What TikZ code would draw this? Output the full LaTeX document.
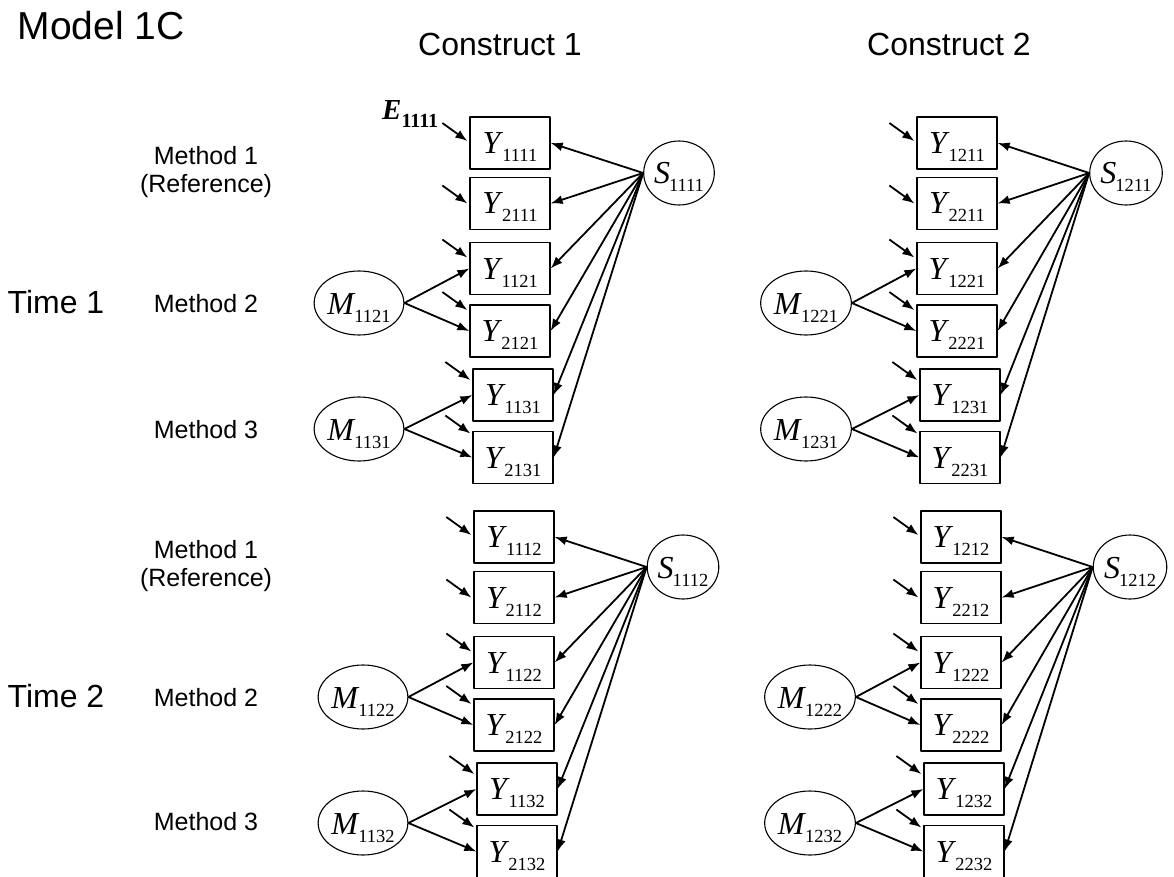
\documentclass[tikz,border=0pt]{standalone}
\usepackage{fontspec}
\setmainfont{Liberation Sans}
\newfontfamily\tnr{Liberation Serif}
\usetikzlibrary{shapes.geometric,arrows.meta}
\newcommand{\lvar}[2]{{\tnr\fontsize{32}{32}\selectfont\textit{#1}\kern-1pt\raisebox{-8pt}{\fontsize{18.5}{18.5}\selectfont #2}}}
\newcommand{\errvar}[2]{{\tnr\bfseries\fontsize{29}{29}\selectfont\textit{#1}\raisebox{-8pt}{\fontsize{20}{20}\selectfont #2}}}

\begin{document}
\begin{tikzpicture}[x=1pt,y=-1pt,>={Latex[length=12pt,width=9pt]},line join=bevel,
  indicator/.style={draw,line width=1.3pt,minimum width=80pt,minimum height=52pt,inner sep=0pt,text height=21pt,text depth=0pt},
  factor/.style={draw,ellipse,line width=1.1pt,minimum width=69pt,minimum height=64pt,inner sep=0pt,text height=22pt,text depth=0pt},
  heading/.style={font=\fontsize{32}{38}\selectfont},
  method/.style={font=\fontsize{25}{28}\selectfont,align=center},
  load/.style={->,line width=1.8pt}]
\useasboundingbox (0,0) rectangle (1174,877);
%% labels
\node (node_title) at (14,40) [anchor=base west,font=\fontsize{39}{46}\selectfont] {Model 1C};
\node (node_con1) at (500,56) [heading,anchor=base] {Construct 1};
\node (node_con2) at (949,56) [heading,anchor=base] {Construct 2};
\node (node_time1) at (56,313) [heading,anchor=base] {Time 1};
\node (node_time2) at (56,707) [heading,anchor=base] {Time 2};
\node (node_meth11) at (206,172) [method] {Method 1\\(Reference)};
\node (node_meth21) at (206,312) [method,anchor=base] {Method 2};
\node (node_meth31) at (206,438) [method,anchor=base] {Method 3};
\node (node_meth12) at (206,566) [method] {Method 1\\(Reference)};
\node (node_meth22) at (206,706) [method,anchor=base] {Method 2};
\node (node_meth32) at (206,830) [method,anchor=base] {Method 3};
\node (node_E1111) at (382,120) [anchor=base west,inner sep=0pt] {\errvar{E}{1111}};
%% construct 1, time 1
\node (node_Y1111) at (510,143) [indicator] {\lvar{Y}{1111}};
\node (node_Y2111) at (510,203.5) [indicator] {\lvar{Y}{2111}};
\node (node_Y1121) at (510,268.5) [indicator] {\lvar{Y}{1121}};
\node (node_Y2121) at (510,331) [indicator] {\lvar{Y}{2121}};
\node (node_Y1131) at (513,395) [indicator] {\lvar{Y}{1131}};
\node (node_Y2131) at (513,457.5) [indicator] {\lvar{Y}{2131}};
\node (node_S1111) at (679,173) [factor] {\lvar{S}{1111}};
\node (node_M1121) at (359,303) [factor,minimum width=70pt] {\lvar{M}{1121}};
\node (node_M1131) at (359,429) [factor,minimum width=70pt] {\lvar{M}{1131}};
\draw [load] (node_S1111.west) -- (node_Y1111.east);
\draw [load] (node_S1111.west) -- (node_Y2111.east);
\draw [load] (node_S1111.west) -- (node_Y1121.east);
\draw [load] (node_S1111.west) -- (node_Y2121.east);
\draw [load] (node_S1111.west) -- (node_Y1131.east);
\draw [load] (node_S1111.west) -- (node_Y2131.east);
\draw [load] (node_M1121.east) -- (node_Y1121.west);
\draw [load] (node_M1121.east) -- (node_Y2121.west);
\draw [load] (node_M1131.east) -- (node_Y1131.west);
\draw [load] (node_M1131.east) -- (node_Y2131.west);
\draw [load] ([xshift=-27pt,yshift=20pt]node_Y1111.west) -- ([xshift=-2pt,yshift=2pt]node_Y1111.west);
\draw [load] ([xshift=-27pt,yshift=18pt]node_Y2111.west) -- ([xshift=-2pt]node_Y2111.west);
\draw [load] ([xshift=-27pt,yshift=29pt]node_Y1121.west) -- ([xshift=-2pt,yshift=11pt]node_Y1121.west);
\draw [load] ([xshift=-27pt,yshift=39pt]node_Y2121.west) -- ([xshift=-2pt,yshift=21pt]node_Y2121.west);
\draw [load] ([xshift=-27pt,yshift=33pt]node_Y1131.west) -- ([xshift=-2pt,yshift=15pt]node_Y1131.west);
\draw [load] ([xshift=-27pt,yshift=42pt]node_Y2131.west) -- ([xshift=-2pt,yshift=24pt]node_Y2131.west);
%% construct 2, time 1
\node (node_Y1211) at (957,143) [indicator] {\lvar{Y}{1211}};
\node (node_Y2211) at (957,203.5) [indicator] {\lvar{Y}{2211}};
\node (node_Y1221) at (957,268.5) [indicator] {\lvar{Y}{1221}};
\node (node_Y2221) at (957,331) [indicator] {\lvar{Y}{2221}};
\node (node_Y1231) at (960,395) [indicator] {\lvar{Y}{1231}};
\node (node_Y2231) at (960,457.5) [indicator] {\lvar{Y}{2231}};
\node (node_S1211) at (1126,173) [factor] {\lvar{S}{1211}};
\node (node_M1221) at (806,303) [factor,minimum width=70pt] {\lvar{M}{1221}};
\node (node_M1231) at (806,429) [factor,minimum width=70pt] {\lvar{M}{1231}};
\draw [load] (node_S1211.west) -- (node_Y1211.east);
\draw [load] (node_S1211.west) -- (node_Y2211.east);
\draw [load] (node_S1211.west) -- (node_Y1221.east);
\draw [load] (node_S1211.west) -- (node_Y2221.east);
\draw [load] (node_S1211.west) -- (node_Y1231.east);
\draw [load] (node_S1211.west) -- (node_Y2231.east);
\draw [load] (node_M1221.east) -- (node_Y1221.west);
\draw [load] (node_M1221.east) -- (node_Y2221.west);
\draw [load] (node_M1231.east) -- (node_Y1231.west);
\draw [load] (node_M1231.east) -- (node_Y2231.west);
\draw [load] ([xshift=-27pt,yshift=20pt]node_Y1211.west) -- ([xshift=-2pt,yshift=2pt]node_Y1211.west);
\draw [load] ([xshift=-27pt,yshift=18pt]node_Y2211.west) -- ([xshift=-2pt]node_Y2211.west);
\draw [load] ([xshift=-27pt,yshift=29pt]node_Y1221.west) -- ([xshift=-2pt,yshift=11pt]node_Y1221.west);
\draw [load] ([xshift=-27pt,yshift=39pt]node_Y2221.west) -- ([xshift=-2pt,yshift=21pt]node_Y2221.west);
\draw [load] ([xshift=-27pt,yshift=33pt]node_Y1231.west) -- ([xshift=-2pt,yshift=15pt]node_Y1231.west);
\draw [load] ([xshift=-27pt,yshift=42pt]node_Y2231.west) -- ([xshift=-2pt,yshift=24pt]node_Y2231.west);
%% construct 1, time 2
\node (node_Y1112) at (514,537) [indicator] {\lvar{Y}{1112}};
\node (node_Y2112) at (514,597.5) [indicator] {\lvar{Y}{2112}};
\node (node_Y1122) at (514,662.5) [indicator] {\lvar{Y}{1122}};
\node (node_Y2122) at (514,725) [indicator] {\lvar{Y}{2122}};
\node (node_Y1132) at (517,789) [indicator] {\lvar{Y}{1132}};
\node (node_Y2132) at (517,851.5) [indicator] {\lvar{Y}{2132}};
\node (node_S1112) at (683,567) [factor] {\lvar{S}{1112}};
\node (node_M1122) at (363,697) [factor,minimum width=70pt] {\lvar{M}{1122}};
\node (node_M1132) at (363,823) [factor,minimum width=70pt] {\lvar{M}{1132}};
\draw [load] (node_S1112.west) -- (node_Y1112.east);
\draw [load] (node_S1112.west) -- (node_Y2112.east);
\draw [load] (node_S1112.west) -- (node_Y1122.east);
\draw [load] (node_S1112.west) -- (node_Y2122.east);
\draw [load] (node_S1112.west) -- (node_Y1132.east);
\draw [load] (node_S1112.west) -- (node_Y2132.east);
\draw [load] (node_M1122.east) -- (node_Y1122.west);
\draw [load] (node_M1122.east) -- (node_Y2122.west);
\draw [load] (node_M1132.east) -- (node_Y1132.west);
\draw [load] (node_M1132.east) -- (node_Y2132.west);
\draw [load] ([xshift=-27pt,yshift=20pt]node_Y1112.west) -- ([xshift=-2pt,yshift=2pt]node_Y1112.west);
\draw [load] ([xshift=-27pt,yshift=18pt]node_Y2112.west) -- ([xshift=-2pt]node_Y2112.west);
\draw [load] ([xshift=-27pt,yshift=29pt]node_Y1122.west) -- ([xshift=-2pt,yshift=11pt]node_Y1122.west);
\draw [load] ([xshift=-27pt,yshift=39pt]node_Y2122.west) -- ([xshift=-2pt,yshift=21pt]node_Y2122.west);
\draw [load] ([xshift=-27pt,yshift=33pt]node_Y1132.west) -- ([xshift=-2pt,yshift=15pt]node_Y1132.west);
\draw [load] ([xshift=-27pt,yshift=42pt]node_Y2132.west) -- ([xshift=-2pt,yshift=24pt]node_Y2132.west);
%% construct 2, time 2
\node (node_Y1212) at (961,537) [indicator] {\lvar{Y}{1212}};
\node (node_Y2212) at (961,597.5) [indicator] {\lvar{Y}{2212}};
\node (node_Y1222) at (961,662.5) [indicator] {\lvar{Y}{1222}};
\node (node_Y2222) at (961,725) [indicator] {\lvar{Y}{2222}};
\node (node_Y1232) at (964,789) [indicator] {\lvar{Y}{1232}};
\node (node_Y2232) at (964,851.5) [indicator] {\lvar{Y}{2232}};
\node (node_S1212) at (1130,567) [factor] {\lvar{S}{1212}};
\node (node_M1222) at (810,697) [factor,minimum width=70pt] {\lvar{M}{1222}};
\node (node_M1232) at (810,823) [factor,minimum width=70pt] {\lvar{M}{1232}};
\draw [load] (node_S1212.west) -- (node_Y1212.east);
\draw [load] (node_S1212.west) -- (node_Y2212.east);
\draw [load] (node_S1212.west) -- (node_Y1222.east);
\draw [load] (node_S1212.west) -- (node_Y2222.east);
\draw [load] (node_S1212.west) -- (node_Y1232.east);
\draw [load] (node_S1212.west) -- (node_Y2232.east);
\draw [load] (node_M1222.east) -- (node_Y1222.west);
\draw [load] (node_M1222.east) -- (node_Y2222.west);
\draw [load] (node_M1232.east) -- (node_Y1232.west);
\draw [load] (node_M1232.east) -- (node_Y2232.west);
\draw [load] ([xshift=-27pt,yshift=20pt]node_Y1212.west) -- ([xshift=-2pt,yshift=2pt]node_Y1212.west);
\draw [load] ([xshift=-27pt,yshift=18pt]node_Y2212.west) -- ([xshift=-2pt]node_Y2212.west);
\draw [load] ([xshift=-27pt,yshift=29pt]node_Y1222.west) -- ([xshift=-2pt,yshift=11pt]node_Y1222.west);
\draw [load] ([xshift=-27pt,yshift=39pt]node_Y2222.west) -- ([xshift=-2pt,yshift=21pt]node_Y2222.west);
\draw [load] ([xshift=-27pt,yshift=33pt]node_Y1232.west) -- ([xshift=-2pt,yshift=15pt]node_Y1232.west);
\draw [load] ([xshift=-27pt,yshift=42pt]node_Y2232.west) -- ([xshift=-2pt,yshift=24pt]node_Y2232.west);
%
\end{tikzpicture}
\end{document}
